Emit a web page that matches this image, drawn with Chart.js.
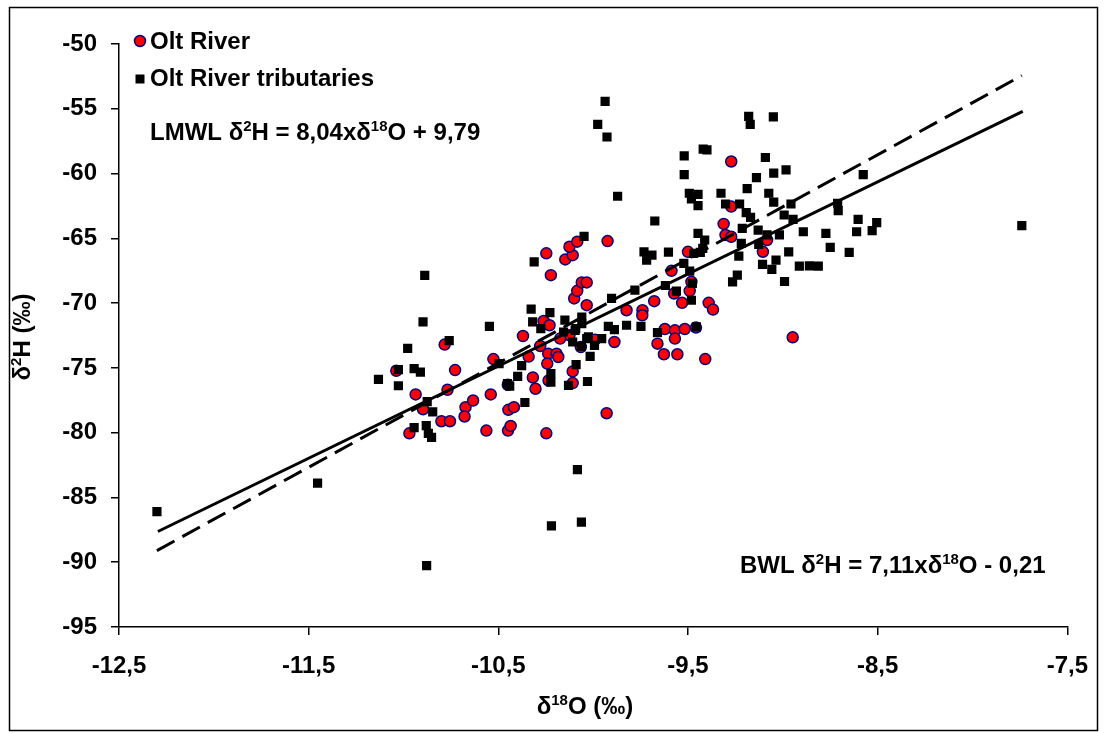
<!DOCTYPE html>
<html><head><meta charset="utf-8">
<script src="https://cdn.jsdelivr.net/npm/chart.js@4.4.0/dist/chart.umd.min.js"></script>
<style>html,body{margin:0;padding:0;background:#fff;}canvas{display:block;}</style>
</head><body>
<canvas id="c" width="1105" height="733"></canvas>
<script>
// ---------- data ----------
const xTickValues = [-12.5, -11.5, -10.5, -9.5, -8.5, -7.5];
const yTickValues = [-95, -90, -85, -80, -75, -70, -65, -60, -55, -50];

const oltRiverX = [-11.038,-10.936,-10.897,-10.969,-10.80,-10.755,-10.783,-10.728,-10.768,-10.673,
 -10.633,-10.678,-10.526,-10.54,-10.563,-10.45,-10.447,-10.418,-10.449,-10.435,
 -10.34,-10.318,-10.304,-10.37,-10.247,-10.223,-10.261,-10.23,-10.279,-10.237,
 -10.193,-10.184,-10.242,-10.235,-10.247,-10.125,-10.108,-10.108,-10.065,-10.034,
 -10.1,-10.084,-10.06,-10.034,-10.147,-10.108,-10.125,-10.084,-9.272,-9.272,
 -9.312,-9.302,-9.272,-9.083,-9.105,-9.5,-9.587,-9.482,-9.491,-9.573,
 -9.531,-9.678,-9.391,-9.368,-9.740,-9.741,-9.824,-9.924,-9.622,-9.569,
 -9.517,-9.458,-9.661,-9.569,-9.627,-9.556,-9.409,-10.174,-9.99,-9.888,
 -9.929,-8.948];
const oltRiverY = [-75.22,-77.05,-78.19,-80.05,-79.12,-79.12,-73.2,-75.17,-76.69,-78.03,
 -77.52,-78.75,-74.32,-77.05,-79.84,-76.3,-78.24,-78.03,-79.84,-79.48,
 -74.13,-75.74,-76.61,-72.54,-66.16,-67.84,-71.38,-71.71,-73.31,-73.9,
 -73.9,-74.16,-74.67,-75.97,-80.05,-72.48,-75.27,-76.17,-73.39,-70.16,
 -69.64,-69.05,-68.4,-68.4,-66.63,-66.3,-65.65,-65.26,-59.07,-62.55,
 -63.89,-64.74,-64.88,-65.13,-66.04,-66.04,-67.51,-68.36,-69.05,-69.26,
 -69.98,-69.85,-69.98,-70.5,-70.55,-70.94,-70.55,-65.21,-72.0,-72.1,
 -72.0,-71.89,-73.13,-72.74,-73.95,-73.95,-74.32,-72.74,-72.82,-73.0,
 -78.5,-72.64];

const tribX = [-12.30,-11.453,-10.878,-10.888,-10.897,-10.978,-11.027,-11.132,-11.027,-10.944,
 -10.911,-10.875,-10.846,-10.944,-10.880,-10.869,-10.852,-10.759,-10.547,-10.496,
 -10.452,-10.44,-10.398,-10.377,-10.360,-10.327,-10.311,-10.319,-10.276,-10.228,
 -10.223,-10.223,-10.149,-10.092,-10.108,-10.090,-10.13,-10.03,-10.06,-10.034,
 -10.048,-9.937,-9.976,-9.927,-9.871,-9.675,-9.18,-9.172,-9.05,-9.520,
 -9.520,-9.42,-9.40,-9.092,-9.139,-9.048,-8.983,-9.188,-9.074,-9.048,
 -9.326,-9.493,-9.447,-9.482,-9.447,-9.302,-9.228,-9.193,-9.17,-9.214,
 -9.130,-8.993,-8.946,-8.892,-9.083,-9.018,-9.219,-9.127,-8.969,-9.232,
 -9.036,-9.107,-9.058,-8.860,-8.991,-9.24,-9.265,-9.447,-9.412,-9.47,
 -9.435,-9.422,-9.603,-9.732,-9.69,-9.718,-9.522,-9.491,-9.619,-9.477,
 -9.561,-9.482,-9.780,-9.903,-9.92,-9.824,-9.748,-9.456,-10.06,-9.888,
 -9.661,-10.156,-10.095,-10.025,-9.993,-9.955,-10.063,-10.016,-10.083,-8.576,
 -8.957,-8.711,-8.708,-8.773,-8.603,-8.505,-8.611,-8.529,-8.75,-8.65,
 -8.913,-8.813,-7.74,-10.22,-10.062];
const tribY = [-86.1,-83.9,-90.26,-67.86,-71.45,-73.49,-75.14,-75.89,-76.38,-75.06,
 -75.33,-77.6,-78.39,-79.61,-79.45,-80.05,-80.36,-72.9,-71.79,-74.67,
 -76.22,-76.41,-75.66,-74.83,-77.67,-70.47,-66.81,-71.45,-71.97,-70.73,
 -75.45,-76.1,-71.32,-71.97,-73.0,-74.75,-76.35,-76.05,-71.07,-72.74,
 -64.85,-54.43,-56.2,-57.18,-61.75,-63.66,-55.59,-56.2,-55.63,-58.63,
 -60.08,-58.11,-58.17,-58.76,-60.31,-59.97,-59.71,-61.16,-61.52,-62.21,
 -61.52,-61.52,-61.6,-61.96,-62.48,-62.35,-62.35,-63.02,-63.38,-64.23,
 -64.36,-63.2,-63.53,-64.49,-64.74,-64.74,-65.39,-65.46,-66.04,-66.37,
 -66.68,-67.01,-67.4,-67.12,-68.33,-67.84,-68.36,-64.61,-65.13,-66.16,
 -66.08,-65.77,-66.06,-66.04,-66.29,-66.68,-66.94,-67.53,-68.64,-68.48,
 -69.08,-69.78,-69.0,-69.64,-71.79,-71.71,-71.79,-71.84,-71.58,-72.04,
 -72.28,-72.23,-72.1,-72.61,-73.26,-72.74,-73.34,-74.11,-82.85,-60.08,
 -62.35,-62.29,-62.86,-64.61,-63.53,-63.79,-64.49,-64.41,-65.7,-66.09,
 -67.14,-67.14,-64.02,-87.2,-86.9];

// regression lines (slope, intercept, x-extent)
const lmwlCoef = [8.04, 9.79];
const lmwlRange = [-12.30, -7.74];
const bwlCoef = [7.11, -0.21];
const bwlRange = [-12.295, -7.735];

// ---------- build ----------
const pts = (xs, ys) => xs.map((x, i) => ({x: x, y: ys[i]}));
const linePts = (c, r) => r.map(x => ({x: x, y: c[0] * x + c[1]}));
const FONT = 'Liberation Sans, Arial, sans-serif';
const FS = 24;

function drawRich(ctx, parts, x, y, size, align) {
  const supSize = Math.round(size * 0.62);
  let w = 0;
  parts.forEach(p => {
    ctx.font = 'bold ' + (p[1] ? supSize : size) + 'px ' + FONT;
    w += ctx.measureText(p[0]).width;
  });
  let cx = align === 'center' ? x - w / 2 : (align === 'right' ? x - w : x);
  ctx.textAlign = 'left';
  ctx.textBaseline = 'alphabetic';
  parts.forEach(p => {
    ctx.font = 'bold ' + (p[1] ? supSize : size) + 'px ' + FONT;
    ctx.fillText(p[0], cx, p[1] ? y - size * 0.38 : y);
    cx += ctx.measureText(p[0]).width;
  });
}

const decorPlugin = {
  id: 'decor',
  afterDraw(chart) {
    const ctx = chart.ctx;
    ctx.save();
    ctx.strokeStyle = '#000';
    ctx.lineWidth = 1.5;
    ctx.strokeRect(9.5, 7.5, 1088, 723);
    const d0 = chart.data.datasets[0], d1 = chart.data.datasets[1];
    ctx.beginPath();
    ctx.arc(140, 41, 5.5, 0, Math.PI * 2);
    ctx.fillStyle = d0.backgroundColor; ctx.fill();
    ctx.lineWidth = d0.borderWidth; ctx.strokeStyle = d0.borderColor; ctx.stroke();
    ctx.fillStyle = d1.backgroundColor;
    ctx.fillRect(135.5, 74.5, 9, 9);
    ctx.fillStyle = '#000';
    ctx.font = 'bold ' + FS + 'px ' + FONT;
    ctx.textBaseline = 'middle';
    ctx.textAlign = 'left';
    ctx.fillText(d0.label, 150, 42);
    ctx.fillText(d1.label, 150, 79);
    drawRich(ctx, [['LMWL \u03B4', 0], ['2', 1], ['H = 8,04x\u03B4', 0], ['18', 1], ['O + 9,79', 0]], 150, 140, FS, 'left');
    drawRich(ctx, [['BWL \u03B4', 0], ['2', 1], ['H = 7,11x\u03B4', 0], ['18', 1], ['O - 0,21', 0]], 740, 573, FS, 'left');
    drawRich(ctx, [['\u03B4', 0], ['18', 1], ['O (\u2030)', 0]], 585, 714, FS, 'center');
    ctx.translate(30, 337);
    ctx.rotate(-Math.PI / 2);
    drawRich(ctx, [['\u03B4', 0], ['2', 1], ['H (\u2030)', 0]], 0, 0, FS, 'center');
    ctx.restore();
  }
};

const tickFont = {family: FONT, weight: 'bold', size: FS};

new Chart(document.getElementById('c'), {
  type: 'scatter',
  data: {
    datasets: [
      {label: 'Olt River', data: pts(oltRiverX, oltRiverY), pointStyle: 'circle', pointRadius: 5.5,
       backgroundColor: '#FF0000', borderColor: '#000080', borderWidth: 1.5, order: 3},
      {label: 'Olt River tributaries', data: pts(tribX, tribY), pointStyle: 'rect', pointRadius: 6.5,
       backgroundColor: '#000000', borderColor: '#000000', borderWidth: 0, order: 2},
      {label: 'LMWL', type: 'line', data: linePts(lmwlCoef, lmwlRange), showLine: true, pointRadius: 0,
       borderColor: '#000', borderWidth: 3, borderDash: [20, 9], fill: false, order: 1},
      {label: 'BWL', type: 'line', data: linePts(bwlCoef, bwlRange), showLine: true, pointRadius: 0,
       borderColor: '#000', borderWidth: 3, fill: false, order: 1}
    ]
  },
  options: {
    responsive: false,
    animation: false,
    events: [],
    devicePixelRatio: 1,
    layout: {padding: {left: 10, right: 36, top: 44, bottom: 0}},
    plugins: {legend: {display: false}, tooltip: {enabled: false}},
    scales: {
      x: {
        type: 'linear', min: xTickValues[0], max: xTickValues[xTickValues.length - 1],
        afterBuildTicks: s => { s.ticks = xTickValues.map(v => ({value: v})); },
        afterFit: s => { s.height = 106; },
        ticks: {font: tickFont, color: '#000', padding: 17, maxRotation: 0,
                callback: v => v.toFixed(1).replace('.', ',')},
        grid: {drawOnChartArea: false, drawTicks: true, tickLength: 8, color: '#000', lineWidth: 1.5},
        border: {color: '#000', width: 1.5}
      },
      y: {
        type: 'linear', min: yTickValues[0], max: yTickValues[yTickValues.length - 1],
        afterBuildTicks: s => { s.ticks = yTickValues.map(v => ({value: v})); },
        afterFit: s => { s.width = 109; },
        ticks: {font: tickFont, color: '#000', padding: 14, callback: v => String(v)},
        grid: {drawOnChartArea: false, drawTicks: true, tickLength: 8, color: '#000', lineWidth: 1.5},
        border: {color: '#000', width: 1.5}
      }
    }
  },
  plugins: [decorPlugin]
});
</script>
</body></html>
